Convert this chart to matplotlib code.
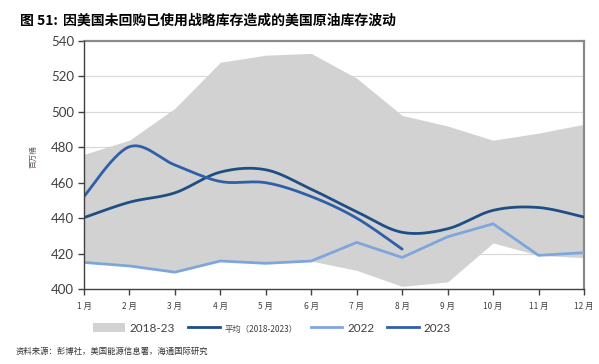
import numpy as np
import matplotlib
matplotlib.use("Agg")
import matplotlib.pyplot as plt
from matplotlib.patches import Patch
from matplotlib.lines import Line2D

plt.rcParams['font.family'] = ['Noto Sans CJK SC', 'DejaVu Sans']

months = list(range(1, 13))
month_labels = [f"{m} 月" for m in months]
band_high = [476, 484, 502, 528, 532, 533, 519, 498, 492, 484, 488, 493]
band_low = [415, 413, 409.5, 415.8, 414.5, 415.8, 410.5, 401.5, 404, 426, 419, 417.7]
avg_vals = [440.3, 449, 454.3, 466, 467.3, 456.3, 443.6, 432, 434, 444.4, 446, 440.6]
y2022 = [415, 413, 409.5, 415.8, 414.5, 415.8, 426.3, 417.8, 429.5, 436.8, 419, 420.5]
y2023 = [452.3, 480.3, 470, 460.7, 460, 452.2, 440, 422.5]

C_BAND = '#d3d2d3'
C_AVG = '#1f4e85'
C_2022 = '#7ea6dd'
C_2023 = '#2f5fa8'


def smooth(x, y, n=24):
    # Catmull-Rom spline (Excel-like smoothed line) for drawing only
    x = np.asarray(x, float); y = np.asarray(y, float)
    P = np.column_stack([x, y])
    P = np.vstack([P[0], P, P[-1]])
    out = []
    for i in range(1, len(P) - 2):
        p0, p1, p2, p3 = P[i - 1], P[i], P[i + 1], P[i + 2]
        b1 = p1 + (p2 - p0) / 6.0
        b2 = p2 - (p3 - p1) / 6.0
        t = np.linspace(0, 1, n, endpoint=(i == len(P) - 3))[:, None]
        seg = ((1 - t) ** 3) * p1 + 3 * ((1 - t) ** 2) * t * b1 + 3 * (1 - t) * t ** 2 * b2 + t ** 3 * p2
        out.append(seg)
    out = np.vstack(out)
    return out[:, 0], out[:, 1]


fig = plt.figure(figsize=(5.99, 3.64), dpi=100)
ax = fig.add_axes([84 / 599, 1 - 289 / 364, (584 - 84) / 599, (289 - 41) / 364])

ax.set_xlim(1, 12)
ax.set_ylim(400, 540)
for g in [420, 440, 460, 480, 500, 520]:
    ax.axhline(g, color='#d9d9d9', lw=0.9, zorder=0)

ax.fill_between(months, band_low, band_high, color=C_BAND, lw=0, zorder=1)
ax.plot(months, y2022, color=C_2022, lw=2.0, zorder=3, solid_joinstyle='round')
sx, sy = smooth(months, avg_vals)
ax.plot(sx, sy, color=C_AVG, lw=2.0, zorder=4, solid_capstyle='round')
sx, sy = smooth(months[:len(y2023)], y2023)
ax.plot(sx, sy, color=C_2023, lw=2.0, zorder=5, solid_capstyle='round')

ax.set_xticks(months)
ax.set_xticklabels(month_labels, fontsize=6, color='#404040')
ax.set_yticks(range(400, 541, 20))
ax.set_yticklabels([str(v) for v in range(400, 541, 20)], fontsize=9.5, color='#404040',
                   family=['Lato', 'DejaVu Sans'])
ax.tick_params(axis='y', direction='out', length=4, width=1, color='#404040', pad=3)
ax.tick_params(axis='x', direction='out', length=4, width=1, color='#404040', pad=5)

for s in ['left', 'bottom']:
    ax.spines[s].set_color('#404040')
    ax.spines[s].set_linewidth(1.0)
for s in ['top', 'right']:
    ax.spines[s].set_color('#8a8a8a')
    ax.spines[s].set_linewidth(1.6)
ax.spines['left'].set_zorder(6)
ax.spines['bottom'].set_zorder(6)

fig.text(33 / 599, 1 - 157 / 364, '百万桶', rotation=90, fontsize=5.5, color='#6a5a5a',
         ha='center', va='center')

fig.text(20 / 599, 1 - 21 / 364, '图 51:', fontsize=10, fontweight='bold',
         color='#000000', ha='left', va='center')
fig.text(63 / 599, 1 - 21 / 364, '因美国未回购已使用战略库存造成的美国原油库存波动',
         fontsize=10, fontweight='bold', color='#000000', ha='left', va='center')

handles = [Patch(facecolor=C_BAND, edgecolor='none'),
           Line2D([0], [0], color=C_AVG, lw=2),
           Line2D([0], [0], color=C_2022, lw=2),
           Line2D([0], [0], color=C_2023, lw=2)]
labels = ['2018-23', '平均（2018-2023）', '2022', '2023']
leg = fig.legend(handles, labels, loc='center', bbox_to_anchor=(272 / 599, 1 - 328 / 364),
                 ncol=4, frameon=False, handlelength=2.7, handleheight=0.9,
                 handletextpad=0.4, columnspacing=1.1,
                 prop={'family': ['Lato', 'Noto Sans CJK SC', 'DejaVu Sans'], 'size': 8.5})
texts = leg.get_texts()
texts[1].set_fontsize(6)
texts[1].set_family(['Noto Sans CJK SC', 'DejaVu Sans'])
for t in texts:
    t.set_color('#404040')

fig.text(16 / 599, 1 - 351 / 364, '资料来源：彭博社，美国能源信息署，海通国际研究', fontsize=6,
         color='#333333', ha='left', va='center')

fig.savefig('out.png', dpi=100)
